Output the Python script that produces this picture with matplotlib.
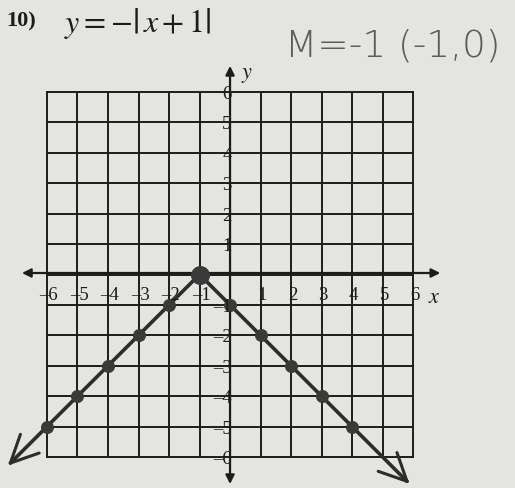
import numpy as np
import matplotlib
matplotlib.use("Agg")
import matplotlib.pyplot as plt

plt.rcParams['mathtext.fontset'] = 'stix'

# integer grid
ticks = [-6, -5, -4, -3, -2, -1, 1, 2, 3, 4, 5, 6]
y_ticks = [-6, -5, -4, -3, -2, -1, 1, 2, 3, 4, 5, 6]

# plotted points of y = -|x + 1|
pts_x = [-6, -5, -4, -3, -2, -1, 0, 1, 2, 3, 4]
pts_y = [-5, -4, -3, -2, -1, 0, -1, -2, -3, -4, -5]
vertex = (-1, 0)
left_end = (-7.2, -6.2)
right_end = (5.8, -6.8)

paper = '#e4e4e1'
ink = '#1c1c1c'
pencil = '#3a3a3a'

fig = plt.figure(figsize=(5.15, 4.89), dpi=100)
fig.patch.set_facecolor(paper)
ax = fig.add_axes([0, 0, 1, 1])
ax.set_facecolor(paper)
ax.set_xlim(-7.54, 9.34)
ax.set_ylim(-7.02, 9.06)
ax.axis('off')

# grid box
for g in range(-6, 7):
    ax.plot([g, g], [-6, 6], color=ink, lw=1.4, zorder=1)
    ax.plot([-6, 6], [g, g], color=ink, lw=1.4, zorder=1)

# axes with arrows
ax.annotate('', xy=(-6.82, 0.05), xytext=(6.89, 0.05),
            arrowprops=dict(arrowstyle='<|-|>', color=ink, lw=1.6,
                            mutation_scale=13, shrinkA=0, shrinkB=0),
            zorder=2)
ax.annotate('', xy=(0, 6.86), xytext=(0, -6.89),
            arrowprops=dict(arrowstyle='<|-|>', color=ink, lw=1.6,
                            mutation_scale=13, shrinkA=0, shrinkB=0),
            zorder=2)

# tick labels
for t in ticks:
    lab = str(t).replace('-', '\u2013')
    ax.text(t + 0.05, -0.67, lab, fontsize=13.5, family='Liberation Serif',
            color=ink, ha='center', va='center', zorder=6)
for t in y_ticks:
    lab = str(t).replace('-', '\u2013')
    ax.text(0.05, t - 0.05, lab, fontsize=13.5, family='Liberation Serif',
            color=ink, ha='right', va='center', zorder=6)
ax.text(6.7, -0.7, r'$x$', fontsize=16, color=ink, ha='center', va='center')
ax.text(0.56, 6.6, r'$y$', fontsize=16, color=ink, ha='center', va='center')

# graph of the function
ax.plot([left_end[0], vertex[0], right_end[0]],
        [left_end[1], vertex[1], right_end[1]],
        color='#2c2c2c', lw=2.6, zorder=4, solid_capstyle='round')
ax.scatter(pts_x, pts_y, s=70, color='#3a3a3a', zorder=5)
ax.scatter([vertex[0]], [vertex[1]], s=160, color='#3a3a3a', zorder=5)

# hand-drawn arrowheads
def chevron(end, start, size=1.0, spread=0.45):
    d = np.array(end) - np.array(start)
    d = d / np.hypot(*d)
    for s in (spread, -spread):
        c, sn = np.cos(s), np.sin(s)
        r = np.array([d[0] * c - d[1] * sn, d[0] * sn + d[1] * c])
        p = np.array(end) - size * r
        ax.plot([end[0], p[0]], [end[1], p[1]], color='#2c2c2c', lw=2.2,
                zorder=4, solid_capstyle='round')

chevron(left_end, vertex)
chevron(right_end, vertex)

# problem heading
fig.text(0.012, 0.957, '10)', fontsize=16, fontweight='bold',
         family='Liberation Serif', color=ink, va='center')
fig.text(0.125, 0.952, r'$y = -\left|\,x + 1\right|$', fontsize=23,
         color=ink, va='center')

# pencil note
fig.text(0.553, 0.905, 'M=-1 (-1,0)', fontsize=27, family='DejaVu Sans',
         fontweight='light', color=pencil, alpha=0.8, va='center')

fig.savefig('out.png', dpi=100, facecolor=paper)
